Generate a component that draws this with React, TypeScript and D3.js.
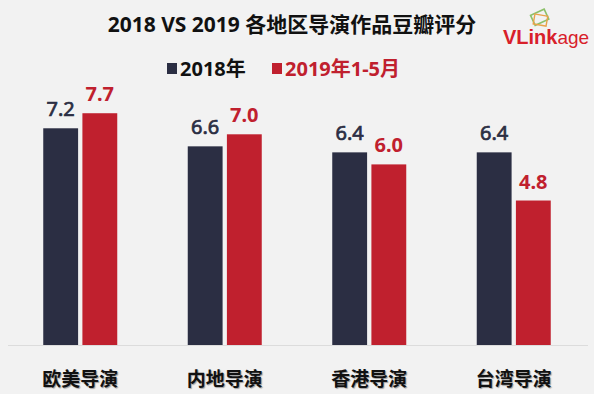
import { useEffect, useRef } from 'react';
import { select, scaleBand, scaleLinear } from 'd3';

const categories = ['欧美导演', '内地导演', '香港导演', '台湾导演'];
const series = ['2018年', '2019年1-5月'];
const scores2018 = [7.2, 6.6, 6.4, 6.4];
const scores2019 = [7.7, 7.0, 6.0, 4.8];
const colors = ['#2b2e43', '#c0202e'];

const width = 594;
const height = 394;
const baseline = 345;
const font = '"Noto Sans", "Noto Sans CJK SC", sans-serif';

const App = () => {
  const svgRef = useRef<SVGSVGElement>(null);

  useEffect(() => {
    if (!svgRef.current) return;
    const svg = select(svgRef.current);
    svg.selectAll('*').remove();

    svg.append('rect').attr('width', width).attr('height', height).attr('fill', '#f2f2f2');

    const x = scaleBand().domain(categories).range([8, 586]);
    const inner = scaleBand().domain(series).range([0, 74]).paddingInner(0.11);
    const y = scaleLinear().domain([0, 1]).range([baseline, baseline - 30.1]);

    // title
    svg
      .append('text')
      .attr('x', 292)
      .attr('y', 32)
      .attr('text-anchor', 'middle')
      .attr('font-family', font)
      .attr('font-weight', 'bold')
      .attr('font-size', 21)
      .attr('fill', '#111')
      .text('2018 VS 2019 各地区导演作品豆瓣评分');

    // logo
    const logo = svg.append('g');
    logo
      .append('rect')
      .attr('x', 532)
      .attr('y', 12)
      .attr('width', 15)
      .attr('height', 11)
      .attr('transform', 'rotate(-25 539 17)')
      .attr('fill', 'none')
      .attr('stroke', '#8cc06a')
      .attr('stroke-width', 1.6);
    logo
      .append('rect')
      .attr('x', 534)
      .attr('y', 15)
      .attr('width', 13)
      .attr('height', 10)
      .attr('transform', 'rotate(10 540 20)')
      .attr('fill', 'none')
      .attr('stroke', '#e8a24a')
      .attr('stroke-width', 1.4);
    const lt = logo
      .append('text')
      .attr('x', 503)
      .attr('y', 44)
      .attr('font-family', '"Liberation Sans", Arial, sans-serif')
      .attr('font-size', 20)
      .attr('fill', '#d8202a');
    lt.append('tspan').attr('font-weight', 'bold').text('VLink');
    lt.append('tspan').attr('font-size', 19).text('age');

    // legend
    const legendItems = [
      { label: series[0], x: 167, color: colors[0], text: '#111' },
      { label: series[1], x: 272, color: colors[1], text: colors[1] },
    ];
    legendItems.forEach((d) => {
      svg.append('rect').attr('x', d.x).attr('y', 63).attr('width', 10).attr('height', 11).attr('fill', d.color);
      svg
        .append('text')
        .attr('x', d.x + 13)
        .attr('y', 76)
        .attr('font-family', font)
        .attr('font-weight', 'bold')
        .attr('font-size', 20)
        .attr('fill', d.text)
        .text(d.label);
    });

    // axis line
    svg
      .append('line')
      .attr('x1', 8)
      .attr('x2', 588)
      .attr('y1', baseline + 0.5)
      .attr('y2', baseline + 0.5)
      .attr('stroke', '#dcdcdc');

    const rows = categories.map((c, i) => ({ c, vals: [scores2018[i], scores2019[i]] }));
    const groups = svg
      .selectAll('g.grp')
      .data(rows)
      .join('g')
      .attr('class', 'grp')
      .attr('transform', (d) => `translate(${x(d.c)! + (x.bandwidth() - 74) / 2},0)`);

    groups.each(function (d) {
      const g = select(this);
      d.vals.forEach((v, j) => {
        const bx = inner(series[j])!;
        g.append('rect')
          .attr('x', bx)
          .attr('y', y(v))
          .attr('width', inner.bandwidth())
          .attr('height', baseline - y(v))
          .attr('fill', colors[j]);
        // 2018 labels are semibold in the original: fake it with a thin stroke
        g.append('text')
          .attr('x', bx + inner.bandwidth() / 2)
          .attr('y', y(v) - 12)
          .attr('text-anchor', 'middle')
          .attr('font-family', font)
          .attr('font-weight', j === 1 ? 'bold' : 'normal')
          .attr('font-size', 20)
          .attr('fill', colors[j])
          .attr('stroke', j === 1 ? 'none' : colors[j])
          .attr('stroke-width', 0.7)
          .text(v.toFixed(1));
      });
    });

    // category labels
    svg
      .selectAll('text.cat')
      .data(categories)
      .join('text')
      .attr('class', 'cat')
      .attr('x', (d) => x(d)! + x.bandwidth() / 2)
      .attr('y', 386)
      .attr('text-anchor', 'middle')
      .attr('font-family', font)
      .attr('font-weight', 'bold')
      .attr('font-size', 19)
      .attr('fill', '#111')
      .style('text-shadow', '1px 1px 1px rgba(0,0,0,0.35)')
      .text((d) => d);
  }, []);

  return (
    <svg
      ref={svgRef}
      width={width}
      height={height}
      style={{ position: 'absolute', left: 0, top: 0, display: 'block' }}
    />
  );
};

export default App;
